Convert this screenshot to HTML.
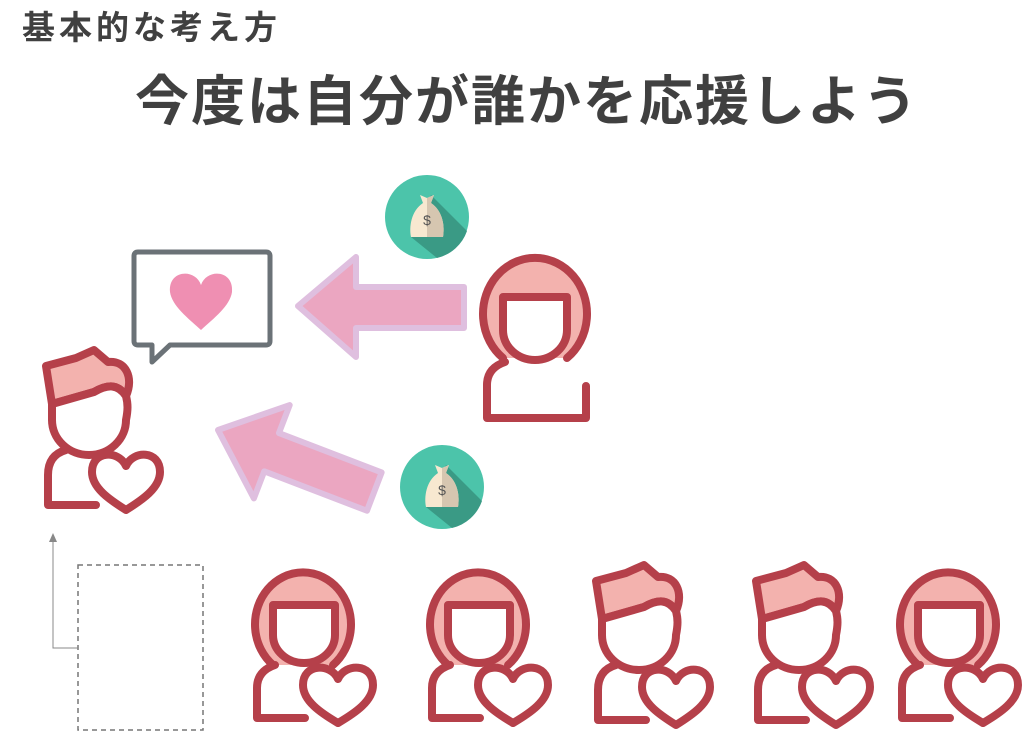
<!DOCTYPE html>
<html><head><meta charset="utf-8"><style>
html,body{margin:0;padding:0;background:#fff;}
body{width:1024px;height:746px;overflow:hidden;position:relative;font-family:"Liberation Sans","Noto Sans CJK JP",sans-serif;}
.t1{position:absolute;left:22px;top:8px;font-size:33px;font-weight:bold;color:#404040;letter-spacing:4px;line-height:40px;white-space:nowrap;}
.t2{position:absolute;left:135px;top:70px;font-size:54px;font-weight:bold;color:#404040;letter-spacing:2px;line-height:64px;white-space:nowrap;}
svg{position:absolute;left:0;top:0;}
</style></head><body>
<div class="t1">基本的な考え方</div>
<div class="t2">今度は自分が誰かを応援しよう</div>
<svg width="1024" height="746" viewBox="0 0 1024 746">
<defs>
 <g id="fh">
  <path d="M18,102 A48,52 0 1 1 78,102" fill="#f3b2ae" stroke="#b5404a" stroke-width="8" stroke-linecap="round"/>
  <path d="M18,42 H80 V72 A31,28 0 0 1 18,72 Z" fill="#fff" stroke="#b5404a" stroke-width="8" stroke-linejoin="round"/>
  <path d="M2,155 V125 Q2,108 20,102 M2,155 H50" fill="none" stroke="#b5404a" stroke-width="8" stroke-linecap="round"/>
  <path d="M83,116 C90,100 118,100 118,122 C118,138 100,150 83,160 C66,150 48,138 48,122 C48,100 76,100 83,116 Z" fill="#fff" stroke="#b5404a" stroke-width="8" stroke-linejoin="round"/>
 </g>
 <g id="mh">
  <path d="M8,16 L38,8 L56,0 L70,12 C88,10 96,28 88,46 C80,34 70,34 56,42 L14,54 Z" fill="#f3b2ae" stroke="#b5404a" stroke-width="8" stroke-linejoin="round"/>
  <path d="M14,54 L56,42 C70,34 80,34 88,46 C90,54 90,60 88,70 A37,35 0 0 1 14,70 Z" fill="#fff" stroke="#b5404a" stroke-width="8" stroke-linejoin="round"/>
  <path d="M10,155 V125 Q10,105 28,100 M10,155 H58" fill="none" stroke="#b5404a" stroke-width="8" stroke-linecap="round"/>
  <path d="M88,116 C95,100 122,100 122,122 C122,138 104,150 88,160 C72,150 54,138 54,122 C54,100 81,100 88,116 Z" fill="#fff" stroke="#b5404a" stroke-width="8" stroke-linejoin="round"/>
 </g>
 <g id="bag">
  <circle cx="0" cy="0" r="42" fill="#4cc4aa"/>
  <path d="M4,-22 L40,14 A42,42 0 0 1 10,41 L-16,20 Z" fill="#3a9a85"/>
  <path d="M-7,-22 L-4,-14 C-16,-6 -18,10 -16,20 H16 C18,10 16,-6 4,-14 L7,-22 L0,-19 Z" fill="#f7e8d0"/>
  <path d="M0,-19 L7,-22 L4,-14 C16,-6 18,10 16,20 H0 Z" fill="#d6c6b0"/>
  <text x="0" y="8" font-size="14" text-anchor="middle" fill="#555" font-family="Liberation Sans,sans-serif">$</text>
 </g>
</defs>
<path d="M138,252 H266 Q270,252 270,256 V341 Q270,345 266,345 H170 L152,362 V345 H138 Q134,345 134,341 V256 Q134,252 138,252 Z" fill="#fff" stroke="#6b7277" stroke-width="5" stroke-linejoin="round"/>
<path d="M201,285 C207,268 234,270 232,292 C230,306 214,318 201,330 C188,318 172,306 170,292 C168,270 195,268 201,285 Z" fill="#ef8fb2"/>
<path d="M298,306 L356,257 V287 H464 V328 H356 V357 Z" fill="#eba6c1" stroke="#dfbfdf" stroke-width="6" stroke-linejoin="round"/>
<g transform="rotate(21 218 430)">
<path d="M218,430 L276,381 V411 H386 V452 H276 V481 Z" fill="#eba6c1" stroke="#dfbfdf" stroke-width="6" stroke-linejoin="round"/>
</g>
<use href="#bag" x="427" y="217"/>
<use href="#bag" x="442" y="487"/>
<g stroke="#b5404a" stroke-width="8" stroke-linejoin="round" stroke-linecap="round">
 <path d="M503,358 A52,56 0 1 1 567,358" fill="#f3b2ae"/>
 <path d="M503,297 H567 V330 A32,30 0 0 1 503,330 Z" fill="#fff"/>
 <path d="M487,418 V385 Q487,368 505,362 M487,418 H586 V386" fill="none"/>
</g>
<use href="#mh" x="38" y="350"/>
<use href="#fh" x="255" y="563"/>
<use href="#fh" x="430" y="563"/>
<use href="#mh" x="588" y="565"/>
<use href="#mh" x="748" y="565"/>
<use href="#fh" x="900" y="563"/>
<rect x="78" y="565" width="125" height="165" fill="none" stroke="#777" stroke-width="1.5" stroke-dasharray="5,4"/>
<path d="M78,648 H53 V540" fill="none" stroke="#888" stroke-width="1"/>
<path d="M49,542 L53,533 L57,542 Z" fill="#888"/>
</svg>
</body></html>
